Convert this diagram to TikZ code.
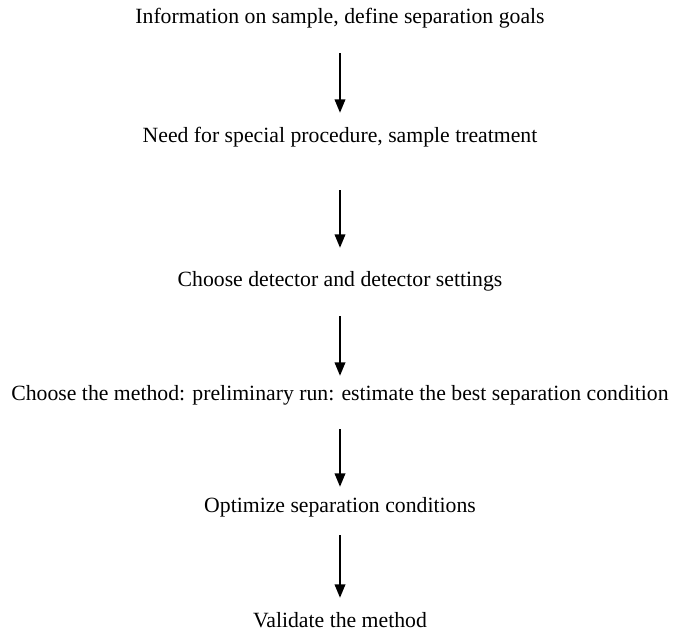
\documentclass[tikz,border=0pt]{standalone}
\usepackage{fontspec}
\setmainfont{Liberation Serif}
\usetikzlibrary{arrows.meta}

\begin{document}
\begin{tikzpicture}[
    x=0.75pt, y=-0.75pt,
    >={Triangle[length=10pt,width=8pt]},
    stepline/.style={
        anchor=base,
        inner sep=0pt,
        font=\fontsize{16.3}{19}\selectfont,
        text height=11.25pt,
        text depth=3.75pt
    },
    flow/.style={->, line width=1.1pt}
]

\useasboundingbox (0,0) rectangle (685,634);

\node[stepline] (info) at (340, 24) {Information on sample, define separation goals};
\node[stepline] (need) at (340,143) {Need for special procedure, sample treatment};
\node[stepline] (detect) at (340,287) {Choose detector and detector settings};
\node[stepline] (method) at (340,401) {Choose the method: preliminary run: estimate the best separation condition};
\node[stepline] (optim) at (340,512) {Optimize separation conditions};
\node[stepline] (valid) at (340,627) {Validate the method};

\draw[flow, shorten <=18pt, shorten >=11.25pt] (info) -- (need);
\draw[flow, shorten <=31.5pt, shorten >=18pt] (need) -- (detect);
\draw[flow, shorten <=18pt, shorten >=7.5pt] (detect) -- (method);
\draw[flow, shorten <=17.25pt, shorten >=7.5pt] (method) -- (optim);
\draw[flow, shorten <=13.5pt, shorten >=10.5pt] (optim) -- (valid);

\end{tikzpicture}
\end{document}
